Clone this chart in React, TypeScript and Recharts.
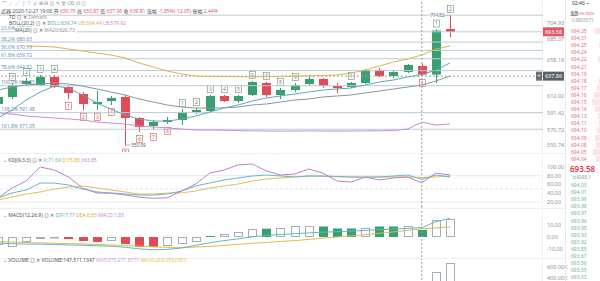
import React from "react";
import { ComposedChart, Bar, Line, XAxis, YAxis, ReferenceLine } from "recharts";

// ---- price series (hourly candles) ----
const opens = [602.85, 611.64, 627.98, 626.73, 636.78, 624.21, 615.41, 602.85, 606.61, 611.64, 585.24, 575.19, 580.22, 582.73, 592.79, 594.04, 612.9, 606.61, 614.16, 629.24, 614.16, 620.44, 627.98, 634.27, 625.47, 624.21, 629.24, 645.58, 638.04, 643.07, 650.7, 639.81, 697.12];
const highs = [614.16, 629.24, 635.52, 639.3, 639.3, 625.47, 617.93, 619.18, 612.9, 614.16, 586.5, 582.73, 586.5, 596.56, 597.83, 614.16, 614.16, 614.16, 631.75, 630.5, 622.95, 629.24, 639.3, 635.52, 629.24, 630.5, 646.84, 648.09, 645.58, 653.12, 653.87, 696.48, 714.52];
const lows = [595.3, 609.13, 625.47, 625.47, 622.95, 609.13, 595.3, 595.3, 601.59, 550.59, 567.65, 570.16, 577.7, 576.45, 590.27, 592.79, 605.36, 604.1, 612.9, 611.64, 609.13, 617.93, 625.47, 622.95, 616.67, 622.95, 627.98, 636.78, 635.52, 641.81, 637.96, 629.24, 687.06];
const closes = [611.64, 626.73, 631.75, 636.78, 624.21, 616.67, 602.85, 605.36, 610.38, 585.24, 573.93, 580.22, 582.73, 592.79, 595.3, 612.9, 606.61, 612.9, 630.5, 614.16, 620.44, 626.73, 634.27, 625.47, 622.95, 629.24, 645.58, 638.04, 643.07, 651.86, 639.81, 695.23, 693.58];

// overlays
const bollMid = [585.24, 595.3, 607.87, 617.93, 625.47, 622.95, 614.16, 604.1, 596.56, 589.01, 583.99, 581.47, 581.2, 583.99, 587.76, 592.79, 597.83, 601.59, 606.61, 610.38, 612.9, 615.41, 617.93, 620.44, 621.7, 622.95, 626.73, 630.5, 633.01, 636.78, 639.74, 645.58, 654.38];
const bollUp = [null, null, 675.75, 675.3, 674.49, 671.98, 669.46, 666.95, 664.44, 660.66, 654.38, 649.35, 644.32, 640.55, 638.04, 637.6, 637.3, 637.1, 637.0, 637.2, 637.5, 637.9, 638.3, 638.8, 639.3, 641.81, 645.58, 650.61, 655.64, 659.41, 664.44, 671.98, 675.75];
const bollLow = [591.53, 590.27, 587.76, 586.5, 585.24, 583.99, 582.73, 580.22, 578.96, 577.7, 575.19, 573.93, 572.67, 571.42, 570.16, 570.1, 569.9, 569.4, 569.1, 568.9, 568.8, 568.9, 569.0, 568.9, 568.85, 568.9, 569.05, 569.2, 569.4, 571.42, 579.92, 576.45, 577.7];
const ma20 = [620.44, 624.21, 626.73, 627.98, 629.24, 627.98, 625.47, 621.7, 617.93, 614.16, 609.13, 605.36, 601.59, 599.07, 597.83, 597.7, 597.95, 599.07, 601.59, 602.85, 605.36, 607.87, 609.13, 611.64, 612.9, 614.16, 616.67, 619.18, 621.7, 624.21, 626.73, 631.75, 638.04];

// TD sequential counts (0 = none)
const tdSell = [0, 1, 2, 3, 4, 0, 0, 0, 0, 0, 0, 0, 0, 1, 2, 3, 4, 5, 6, 7, 8, 9, 0, 0, 0, 1, 0, 0, 0, 0, 0, 1, 2];
const tdBuy = [0, 0, 0, 0, 0, 1, 2, 3, 4, 5, 6, 7, 8, 0, 0, 0, 0, 0, 0, 0, 0, 0, 0, 0, 0, 0, 0, 0, 0, 0, 1, 0, 0];

// KDJ(9,3,3)
const kLine = [29.1, 40.6, 47.4, 63.4, 63.2, 58.9, 49.7, 42.9, 40.6, 38.3, 36.0, 35.8, 38.3, 45.1, 56.6, 63.4, 70.3, 74.9, 79.4, 81.7, 79.6, 77.3, 79.4, 79.1, 78.6, 77.1, 76.8, 77.2, 79.4, 81.7, 71.69, 81.7, 77.1];
const dLine = [24.6, 31.4, 38.3, 42.9, 49.7, 54.3, 56.6, 52.0, 47.4, 42.9, 38.3, 38.1, 40.6, 40.8, 45.1, 52.0, 56.6, 61.1, 68.0, 72.6, 74.9, 77.1, 79.4, 79.2, 77.6, 77.1, 77.0, 77.2, 77.1, 77.4, 75.86, 77.1, 79.4];
const jLine = [29.1, 52.0, 68.0, 100.0, 93.1, 77.1, 52.0, 40.6, 40.2, 36.0, 31.2, 28.4, 29.7, 45.1, 61.1, 86.3, 93.1, 104.6, 106.9, 90.9, 81.7, 84.0, 95.4, 86.0, 68.0, 65.7, 77.1, 70.3, 74.9, 77.1, 63.85, 86.3, 81.7];

// MACD(12,26,9)
const dif = [-5.0, -5.6, -5.9, -6.0, -6.2, -6.6, -6.9, -7.3, -7.7, -8.5, -9.9, -10.6, -10.3, -9.2, -7.0, -4.8, -3.0, -1.6, 0.2, 1.3, 2.1, 2.8, 3.4, 4.0, 4.4, 4.9, 5.5, 6.1, 6.6, 7.2, 7.77, 12.8, 15.6];
const dea = [-3.8, -4.2, -4.6, -4.9, -5.2, -5.5, -5.8, -6.2, -6.6, -7.0, -7.6, -8.2, -8.6, -8.7, -8.4, -7.8, -7.0, -6.1, -5.3, -4.5, -3.7, -3.0, -2.0, -1.0, 0.0, 1.0, 2.0, 3.1, 4.2, 5.5, 6.85, 7.6, 8.4];
const macdHist = [-2.1, -2.6, -1.3, -0.66, -0.26, -0.53, -1.06, -1.32, -1.06, -1.85, -2.65, -2.65, -2.51, -1.85, -1.32, 0.26, 0.79, 1.32, 2.2, 2.2, 2.3, 2.83, 2.83, 2.78, 2.25, 2.25, 2.38, 2.78, 2.78, 2.78, 1.85, 4.37, 4.76];
const macdSolid = [0, 0, 0, 0, 0, 1, 1, 1, 0, 1, 1, 1, 0, 0, 0, 1, 0, 0, 0, 1, 0, 0, 0, 1, 1, 1, 0, 1, 1, 0, 1, 0, 0];

// volume
const volumes = [210400, 182300, 151800, 163900, 176200, 194500, 231700, 202600, 143900, 331500, 262400, 171300, 121800, 193200, 112700, 241600, 152300, 133900, 264100, 221500, 141700, 122400, 162800, 151200, 113600, 92700, 254300, 172100, 124900, 183400, 147511.1347, 515300, 672400];
const volMa5 = 375971.8777;
const volMa10 = 263053.0357;

// fibonacci retracement
const fibRatios = ["0.0%", "23.6%", "38.2%", "50.0%", "61.8%", "78.6%", "100.0%", "138.2%", "161.8%"];
const fibPrices = [714.52, 693.59, 680.65, 670.19, 659.72, 644.82, 625.85, 591.98, 571.05];

const priceTicks = [704.93, 685.07, 658.19, 612.92, 591.42, 570.72, 550.74];
const kdjTicks = [20, 40, 60, 80, 100];
const macdTicks = [-10, 0, 10];
const volTicks = [400000, 600000];

// order book
const askPrices = [694.35, 694.31, 694.25, 694.24, 694.22, 694.21, 694.19, 694.18, 694.17, 694.16, 694.15, 694.14, 694.13, 694.11, 694.1, 694.09, 694.08, 694.05, 694.04];
const askDepth = [6, 0, 2, 0, 3, 1, 0, 2, 4, 7, 9, 6, 3, 2, 4, 6, 5, 8, 5];
const bidPrices = [694.03, 694.01, 693.99, 693.98, 693.97, 693.96, 693.95, 693.93, 693.92, 693.85, 693.67, 693.56, 693.55, 693.53];

const crossIndex = 30;
const crossPrice = 637.86;

const rows = opens.map((o, i) => ({
  i,
  open: o,
  high: highs[i],
  low: lows[i],
  close: closes[i],
  mid: bollMid[i],
  up: bollUp[i],
  lb: bollLow[i],
  ma: ma20[i],
  tdSell: tdSell[i],
  tdBuy: tdBuy[i],
  k: kLine[i],
  d: dLine[i],
  j: jLine[i],
  dif: dif[i],
  dea: dea[i],
  hist: macdHist[i],
  solid: macdSolid[i],
  volume: volumes[i],
}));

const maxIdx = highs.indexOf(Math.max(...highs));
const minIdx = lows.indexOf(Math.min(...lows));

const GREEN = "#3a9f6f";
const RED = "#e14b57";
const HOLLOW = "#a5aeb6";
const FIB = "#bccbd9";
const AXIS_TXT = "#8d939b";
const FONT = '"Noto Sans", "Noto Sans CJK SC", sans-serif';
const X_DOMAIN: [number, number] = [0.15, 38.58];
const MARGIN = { top: 0, right: 35, bottom: 0, left: 0 };
const tickStyle = { fontSize: 5.5, fill: AXIS_TXT, fontFamily: FONT };

function TdTag({ cx, cy, n, color }: { cx: number; cy: number; n: number; color: string }) {
  return (
    <g>
      <rect x={cx - 3} y={cy - 3.5} width={6} height={7} fill="#fff" stroke={color} strokeWidth={0.6} />
      <text x={cx} y={cy + 1.8} textAnchor="middle" fontSize={5} fill={color} fontFamily={FONT}>
        {n}
      </text>
    </g>
  );
}

function Candle(props: any) {
  const { x, y, width, height, payload, index } = props;
  if (payload == null || !Number.isFinite(y)) return null;
  const top = Math.min(y, y + height);
  const bot = Math.max(y, y + height);
  const span = payload.high - payload.low || 1;
  const toY = (v: number) => top + ((payload.high - v) / span) * (bot - top);
  const cx = Math.round(x + width / 2) + 0.5;
  const rising = payload.close >= payload.open;
  const color = rising ? GREEN : RED;
  const bTop = toY(Math.max(payload.open, payload.close));
  const bBot = toY(Math.min(payload.open, payload.close));
  return (
    <g>
      <line x1={cx} x2={cx} y1={top} y2={bot} stroke={color} strokeWidth={1} />
      <rect x={cx - 4.5} y={bTop} width={9} height={Math.max(1, bBot - bTop)} fill={color} />
      {payload.tdSell > 0 && <TdTag cx={cx} cy={top - 6} n={payload.tdSell} color="#6f8a7c" />}
      {payload.tdBuy > 0 && <TdTag cx={cx} cy={bot + 7} n={payload.tdBuy} color="#c9605f" />}
      {index === maxIdx && (
        <g>
          <line x1={cx - 5} x2={cx - 1} y1={top + 0.5} y2={top + 0.5} stroke="#666" strokeWidth={0.5} />
          <text x={cx - 6} y={top + 2.2} textAnchor="end" fontSize={4.5} fill="#555" fontFamily={FONT}>
            {payload.high.toFixed(2)}
          </text>
        </g>
      )}
      {index === minIdx && (
        <g>
          <line x1={cx + 1} x2={cx + 5} y1={bot - 0.5} y2={bot - 0.5} stroke="#666" strokeWidth={0.5} />
          <text x={cx + 6} y={bot + 1.2} fontSize={4.5} fill="#555" fontFamily={FONT}>
            {payload.low.toFixed(2)}
          </text>
        </g>
      )}
    </g>
  );
}

function MacdBar(props: any) {
  const { x, y, width, height, payload } = props;
  if (payload == null || !Number.isFinite(y)) return null;
  const top = Math.min(y, y + height);
  const h = Math.abs(height);
  const cx = Math.round(x + width / 2) + 0.5;
  if (payload.solid) {
    return <rect x={cx - 4.5} y={top} width={9} height={Math.max(h, 0.8)} fill={payload.hist >= 0 ? GREEN : RED} />;
  }
  return (
    <rect x={cx - 4} y={Math.round(top) + 0.5} width={8} height={Math.max(Math.round(h) - 1, 0.5)} fill="#fff" stroke={HOLLOW} strokeWidth={1} />
  );
}

function VolBar(props: any) {
  const { x, y, width, height } = props;
  if (!Number.isFinite(y)) return null;
  const top = Math.min(y, y + height);
  const cx = Math.round(x + width / 2) + 0.5;
  return <rect x={cx - 4} y={Math.round(top) + 0.5} width={8} height={Math.abs(height)} fill="#fff" stroke={HOLLOW} strokeWidth={1} />;
}

const fibLabel = (text: string) => (p: any) =>
  (
    <text x={p.viewBox.x + 1} y={p.viewBox.y - 1.5} fontSize={5} fill="#6b8fb5" fontFamily={FONT}>
      {text}
    </text>
  );

const axisTag = (text: string, bg: string, cross: boolean) => (p: any) => {
  const left = p.viewBox.x + p.viewBox.width;
  const y = p.viewBox.y;
  return (
    <g>
      {cross && (
        <g>
          <rect x={left - 7} y={y - 4.5} width={6} height={9} fill="#6b7077" />
          <text x={left - 4} y={y + 2} textAnchor="middle" fontSize={6} fill="#fff" fontFamily={FONT}>
            +
          </text>
        </g>
      )}
      <rect x={left} y={y - 4.5} width={21} height={9} fill={bg} />
      <text x={left + 10.5} y={y + 2} textAnchor="middle" fontSize={5.5} fill="#fff" fontFamily={FONT}>
        {text}
      </text>
    </g>
  );
};

type Seg = [string, string];
function TextRow({ top, left, segs, bg }: { top: number; left: number; segs: Seg[]; bg?: boolean }) {
  return (
    <div
      style={{
        position: "absolute",
        top,
        left,
        fontSize: 5,
        lineHeight: "6px",
        whiteSpace: "nowrap",
        fontFamily: FONT,
        background: bg ? "#fff" : undefined,
        paddingRight: bg ? 2 : 0,
      }}
    >
      {segs.map(([t, c], n) => (
        <span key={n} style={{ color: c }}>
          {t}
        </span>
      ))}
    </div>
  );
}

const DARK = "#4a4f57";
const PINK = "#e05a6c";
const C_MID = "#5fa9b7";
const C_UP = "#dcb552";
const C_LB = "#c98fd4";
const C_MA = "#8796a0";

export default function App() {
  const c = rows[crossIndex];
  const prev = closes[crossIndex - 1];
  const chg = c.close - prev;
  const chgPct = (chg / prev) * 100;
  const amp = ((c.high - c.low) / prev) * 100;
  const fmtVol = (v: number) => v.toLocaleString("en-US", { maximumFractionDigits: 4 });

  return (
    <div style={{ position: "fixed", left: 0, top: 0, width: 600, height: 281, overflow: "hidden", background: "#fff", fontFamily: FONT }}>
      {/* KDJ pane */}
      <div style={{ position: "absolute", left: 0, top: 152 }}>
        <ComposedChart width={600} height={55} data={rows} margin={MARGIN}>
          <XAxis type="number" dataKey="i" domain={X_DOMAIN} allowDataOverflow hide />
          <YAxis
            orientation="right"
            width={22}
            domain={[8.57, 134.29]}
            allowDataOverflow
            ticks={kdjTicks}
            interval={0}
            tickFormatter={(v: number) => v.toFixed(2)}
            axisLine={false}
            tickLine={false}
            tickSize={2}
            tickMargin={2}
            tick={tickStyle}
          />
          <ReferenceLine y={80} stroke="#e6e9ed" />
          <ReferenceLine y={50} stroke="#dfe3e8" strokeDasharray="3 2" />
          <ReferenceLine y={20} stroke="#e6e9ed" />
          <ReferenceLine x={crossIndex} stroke="#9aa0a6" strokeDasharray="2 2" />
          <Line dataKey="d" stroke="#e1bf5a" strokeWidth={1} dot={false} isAnimationActive={false} />
          <Line dataKey="k" stroke="#6bb6c9" strokeWidth={1} dot={false} isAnimationActive={false} />
          <Line dataKey="j" stroke="#b784c9" strokeWidth={1} dot={false} isAnimationActive={false} />
        </ComposedChart>
      </div>

      {/* MACD pane */}
      <div style={{ position: "absolute", left: 0, top: 207 }}>
        <ComposedChart width={600} height={50} data={rows} margin={MARGIN}>
          <XAxis type="number" dataKey="i" domain={X_DOMAIN} allowDataOverflow hide />
          <YAxis
            yAxisId="m"
            orientation="right"
            width={22}
            domain={[-16.667, 25]}
            allowDataOverflow
            ticks={macdTicks}
            interval={0}
            tickFormatter={(v: number) => v.toFixed(2)}
            axisLine={false}
            tickLine={false}
            tickSize={2}
            tickMargin={2}
            tick={tickStyle}
          />
          <YAxis yAxisId="h" hide domain={[-5.291, 7.937]} allowDataOverflow />
          <ReferenceLine yAxisId="m" x={crossIndex} stroke="#9aa0a6" strokeDasharray="2 2" />
          <Bar yAxisId="h" dataKey="hist" barSize={10} shape={MacdBar} isAnimationActive={false} />
          <Line yAxisId="m" dataKey="dea" stroke="#e2b94f" strokeWidth={1} dot={false} isAnimationActive={false} />
          <Line yAxisId="m" dataKey="dif" stroke="#62b6c0" strokeWidth={1} dot={false} isAnimationActive={false} />
        </ComposedChart>
      </div>

      {/* volume pane */}
      <div style={{ position: "absolute", left: 0, top: 257 }}>
        <ComposedChart width={600} height={43} data={rows} margin={MARGIN}>
          <XAxis type="number" dataKey="i" domain={X_DOMAIN} allowDataOverflow hide />
          <YAxis
            orientation="right"
            width={22}
            domain={[0, 781818]}
            allowDataOverflow
            ticks={volTicks}
            interval={0}
            tickFormatter={(v: number) => `${(v / 1000).toFixed(2)}K`}
            axisLine={false}
            tickLine={false}
            tickSize={2}
            tickMargin={2}
            tick={tickStyle}
          />
          <ReferenceLine x={crossIndex} stroke="#9aa0a6" strokeDasharray="2 2" />
          <Bar dataKey="volume" barSize={10} shape={VolBar} isAnimationActive={false} />
        </ComposedChart>
      </div>

      {/* pane separators */}
      {[152.5, 207.5, 257.5].map((t) => (
        <div key={t} style={{ position: "absolute", left: 0, top: t, width: 565, height: 1, background: "#eef0f3" }} />
      ))}
      <div style={{ position: "absolute", left: 542, top: 0, width: 1, height: 281, background: "#f0f2f4" }} />

      {/* main price pane (svg runs a little past the plot so low tags are not cut) */}
      <div style={{ position: "absolute", left: 0, top: 0 }}>
        <ComposedChart width={600} height={162} data={rows} margin={{ ...MARGIN, bottom: 10 }}>
          <XAxis type="number" dataKey="i" domain={X_DOMAIN} allowDataOverflow hide />
          <YAxis
            orientation="right"
            width={22}
            domain={[542.51, 733.57]}
            allowDataOverflow
            ticks={priceTicks}
            interval={0}
            tickFormatter={(v: number) => v.toFixed(2)}
            axisLine={false}
            tickLine={false}
            tickSize={2}
            tickMargin={2}
            tick={tickStyle}
          />
          {fibPrices.map((p, n) => (
            <ReferenceLine key={n} y={p} stroke={FIB} strokeWidth={1} label={n === 0 ? undefined : fibLabel(`${fibRatios[n]} ${p.toFixed(2)}`)} />
          ))}
          <ReferenceLine y={crossPrice} stroke="#9aa0a6" strokeDasharray="2 2" label={axisTag(crossPrice.toFixed(2), "#5b6068", true)} />
          <ReferenceLine x={crossIndex} stroke="#9aa0a6" strokeDasharray="2 2" />
          <Line dataKey="lb" stroke={C_LB} strokeWidth={1} dot={false} isAnimationActive={false} />
          <Line dataKey="up" stroke={C_UP} strokeWidth={1} dot={false} isAnimationActive={false} />
          <Line dataKey="ma" stroke={C_MA} strokeWidth={1} dot={false} isAnimationActive={false} />
          <Line dataKey="mid" stroke={C_MID} strokeWidth={1} dot={false} isAnimationActive={false} />
          <Bar dataKey={(d: any) => [d.low, d.high]} barSize={10} shape={Candle} isAnimationActive={false} />
          <ReferenceLine y={closes[closes.length - 1]} stroke="none" label={axisTag(closes[closes.length - 1].toFixed(2), "#e0556a", false)} />
        </ComposedChart>
      </div>

      {/* legends */}
      <TextRow top={0} left={2} segs={[["⌒  ╱  ⋰  ⌇  ⊤  ∥  ⊞  ⊟  ⊘  ✎  文  ⌫  ⊡  ⊙", "#8a9099"]]} />
      <TextRow
        top={7.5}
        left={1}
        segs={[
          ["武器 2020-12-27 19:00 ", DARK],
          ["开 ", DARK],
          [c.open.toFixed(2), PINK],
          [" 高 ", DARK],
          [c.high.toFixed(2), PINK],
          [" 低 ", DARK],
          [c.low.toFixed(2), PINK],
          [" 收 ", DARK],
          [c.close.toFixed(2), PINK],
          [" 涨幅 ", DARK],
          [`${chgPct.toFixed(2)}%(${chg.toFixed(2)})`, PINK],
          [" 振幅 ", DARK],
          [`${amp.toFixed(2)}%`, PINK],
        ]}
      />
      <TextRow top={14} left={9} segs={[["TD  ⊙  ✕  ", DARK], ["Demark", "#9aa0a6"]]} />
      <TextRow
        top={20}
        left={9}
        segs={[
          ["BOLL(20,2)  ⊙  ✕  ", DARK],
          [`BOLL:${c.mid.toFixed(2)} `, C_MID],
          [`UB:${(c.up as number).toFixed(2)} `, C_UP],
          [`LB:${c.lb.toFixed(2)}`, C_LB],
        ]}
      />
      <TextRow top={26.5} left={15} bg segs={[["MA(20)  ⊙  ✕  ", DARK], [`MA20:${c.ma.toFixed(2)}`, C_MA]]} />

      <TextRow
        top={157}
        left={3}
        segs={[
          ["⌄  KDJ(9,3,3)  ⊙  ✕  ", DARK],
          [`K:${c.k.toFixed(2)} `, "#6bb6c9"],
          [`D:${c.d.toFixed(2)} `, "#d9ad3a"],
          [`J:${c.j.toFixed(2)}`, "#b784c9"],
        ]}
      />
      <TextRow
        top={211.5}
        left={3}
        segs={[
          ["⌄  MACD(12,26,9)  ⊙  ✕  ", DARK],
          [`DIF:${c.dif.toFixed(2)} `, "#62b6c0"],
          [`DEA:${c.dea.toFixed(2)} `, "#d9ad3a"],
          [`MACD:${c.hist.toFixed(2)}`, "#c28ad8"],
        ]}
      />
      <TextRow
        top={256.5}
        left={3}
        segs={[
          ["⌄  VOLUME  ⊙  ✕  ", DARK],
          [`VOLUME:${fmtVol(c.volume)} `, DARK],
          [`MA5:${fmtVol(volMa5)} `, "#c9a0d8"],
          [`MA10:${fmtVol(volMa10)}`, "#e2c23a"],
        ]}
      />

      {/* order book column */}
      <div style={{ position: "absolute", left: 565, top: 0, width: 35, height: 281, borderLeft: "1px solid #e6e8eb", fontFamily: FONT }}>
        <div style={{ position: "absolute", left: 6, top: 0, fontSize: 5, color: "#333", whiteSpace: "nowrap" }}>02:46 ~</div>
        <div style={{ position: "absolute", left: 4, top: 10, fontSize: 4.3, whiteSpace: "nowrap" }}>
          <span style={{ color: "#333" }}>涨跌:</span>
          <span style={{ color: PINK }}>55.93%</span>
        </div>
        <div style={{ position: "absolute", left: 6, top: 16.5, fontSize: 4.5, color: "#9aa0a6", whiteSpace: "nowrap" }}>0.9805071</div>
        {askPrices.map((p, n) => (
          <div key={`a${n}`} style={{ position: "absolute", left: 0, top: 28 + n * 7.1, width: 35, height: 6 }}>
            <div style={{ position: "absolute", right: 0, top: 0, width: askDepth[n], height: 6, background: "#fde4e7" }} />
            <div style={{ position: "absolute", left: 5, top: 0, fontSize: 5, lineHeight: "6px", color: "#e36f80" }}>{p.toFixed(2)}</div>
          </div>
        ))}
        <div style={{ position: "absolute", left: 4, top: 164, fontSize: 8, fontWeight: 600, color: "#d9364b", lineHeight: "10px" }}>
          {closes[closes.length - 1].toFixed(2)}
        </div>
        <div style={{ position: "absolute", left: 6, top: 174, fontSize: 4.5, color: "#8a9099" }}>≈4293.1</div>
        {bidPrices.map((p, n) => (
          <div key={`b${n}`} style={{ position: "absolute", left: 5, top: 182 + n * 7.1, fontSize: 5, lineHeight: "6px", color: "#6fb593" }}>
            {p.toFixed(2)}
          </div>
        ))}
      </div>
    </div>
  );
}
